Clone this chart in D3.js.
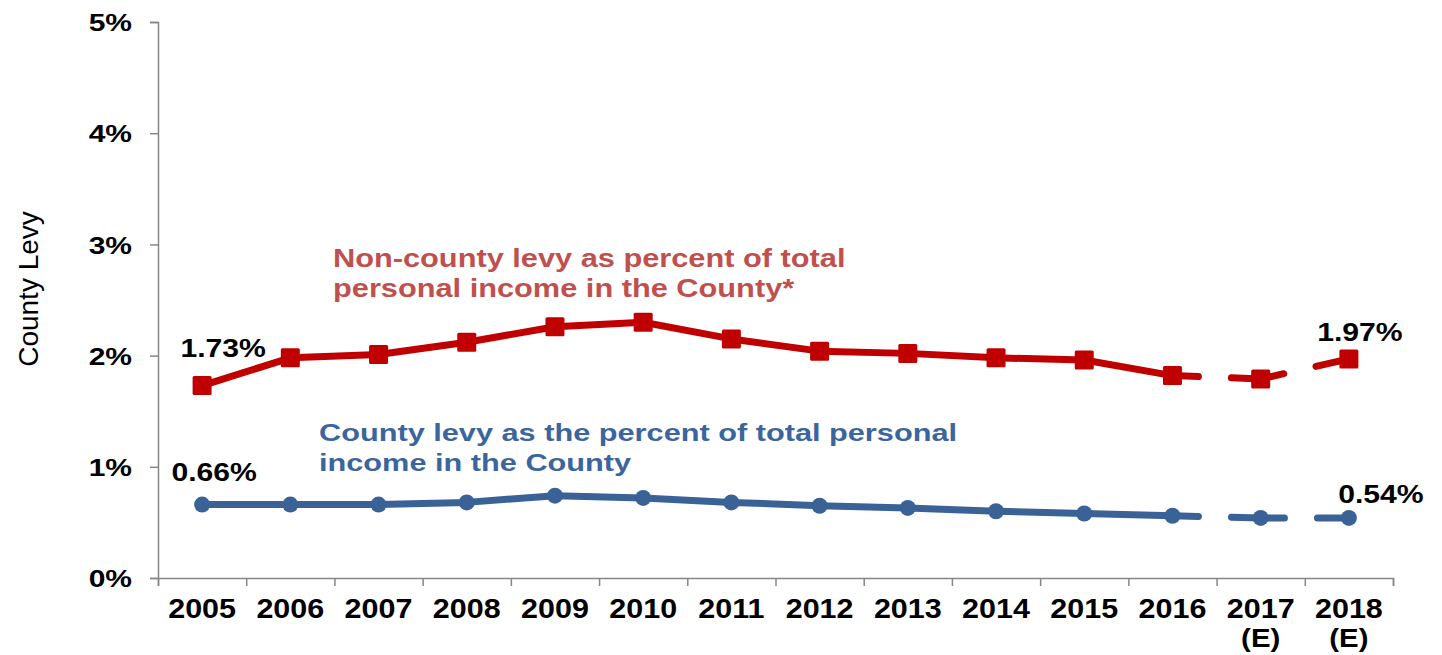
<!DOCTYPE html>
<html>
<head>
<meta charset="utf-8">
<script src="https://cdn.jsdelivr.net/npm/d3@7"></script>
<style>
  body { margin: 0; background: #fff; }
  svg text { font-family: "Liberation Sans", Arial, sans-serif; }
</style>
</head>
<body>
<div id="chart"></div>
<script>
// chart data
const years = ["2005", "2006", "2007", "2008", "2009", "2010", "2011", "2012", "2013", "2014", "2015", "2016", "2017", "2018"];
const yearNotes = ["", "", "", "", "", "", "", "", "", "", "", "", "(E)", "(E)"];
const nonCountyLevy = [1.73, 1.98, 2.01, 2.12, 2.26, 2.30, 2.15, 2.04, 2.02, 1.98, 1.96, 1.82, 1.79, 1.97];
const countyLevy = [0.66, 0.66, 0.66, 0.68, 0.74, 0.72, 0.68, 0.65, 0.63, 0.60, 0.58, 0.56, 0.54, 0.54];
const yTicks = [0, 1, 2, 3, 4, 5];
const firstEstimate = 11; // dashed from the 2016 point onwards

const W = 1442, H = 655;
const plotLeft = 158, plotRight = 1393, plotTop = 22, plotBottom = 578;

const red = "#c00000", redText = "#c0504d";
const blue = "#3a6296", blueText = "#3b659d";

const svg = d3.select("#chart").append("svg")
    .attr("width", W)
    .attr("height", H);

// scales
const x = d3.scaleBand().domain(years).range([plotLeft, plotRight]);
const xEdge = d3.scaleLinear().domain([0, years.length]).range([plotLeft, plotRight]);
const y = d3.scaleLinear().domain([0, 5]).range([plotBottom, plotTop]);

// y axis
const yAxis = svg.append("g")
    .attr("transform", `translate(${plotLeft},0)`)
    .call(d3.axisLeft(y).tickValues(yTicks).tickSize(8).tickFormat(d => d + "%"));
yAxis.select(".domain").attr("stroke", "#868686").attr("stroke-width", 1.5);
yAxis.selectAll(".tick line").attr("stroke", "#868686").attr("stroke-width", 1.5);
yAxis.selectAll(".tick text")
    .attr("x", 0)
    .attr("dy", "0.36em")
    .attr("transform", "translate(-26,0) scale(1.25,1)")
    .attr("text-anchor", "end")
    .attr("fill", "#000")
    .style("font-size", "24px")
    .style("font-weight", "bold");

// x axis: ticks on category edges, labels in the middle
const xTicks = svg.append("g")
    .attr("transform", `translate(0,${plotBottom})`)
    .call(d3.axisBottom(xEdge).tickValues(d3.range(years.length + 1)).tickSize(8).tickFormat(""));
xTicks.select(".domain").attr("stroke", "#868686").attr("stroke-width", 1.5);
xTicks.selectAll(".tick line").attr("stroke", "#868686").attr("stroke-width", 1.5);

const xLabels = svg.append("g")
    .attr("transform", `translate(0,${plotBottom})`)
    .call(d3.axisBottom(x).tickSize(0).tickFormat(""));
xLabels.select(".domain").remove();
xLabels.selectAll(".tick").each(function(d, i) {
    let g = d3.select(this).append("g").attr("transform", "scale(1.13,1)");
    g.append("text")
        .attr("y", 40)
        .attr("text-anchor", "middle")
        .attr("fill", "#000")
        .style("font-size", "27px")
        .style("font-weight", "bold")
        .text(d);
    if (yearNotes[i]) {
        g.append("text")
            .attr("y", 69)
            .attr("text-anchor", "middle")
            .attr("fill", "#000")
            .style("font-size", "26px")
            .style("font-weight", "bold")
            .text(yearNotes[i]);
    }
});

// y title
svg.append("text")
    .attr("transform", `translate(38,${(plotTop + plotBottom) / 2 - 11}) rotate(-90)`)
    .attr("text-anchor", "middle")
    .attr("fill", "#000")
    .style("font-size", "28px")
    .text("County Levy");

// lines
const cx = (d, i) => x(years[i]) + x.bandwidth() / 2;
const line = d3.line().x(d => d.x).y(d => d.y);

function drawSeries(values, color, marker) {
    let pts = values.map((v, i) => ({ x: cx(v, i), y: y(v) }));
    let g = svg.append("g");

    g.append("path")
        .attr("d", line(pts.slice(0, firstEstimate + 1)))
        .attr("fill", "none")
        .attr("stroke", color)
        .attr("stroke-width", 7)
        .attr("stroke-linejoin", "round")
        .attr("stroke-linecap", "round");

    g.append("path")
        .attr("d", line(pts.slice(firstEstimate)))
        .attr("fill", "none")
        .attr("stroke", color)
        .attr("stroke-width", 7)
        .attr("stroke-linecap", "round")
        .attr("stroke-dasharray", "53 33")
        .attr("stroke-dashoffset", 27);

    if (marker == "square") {
        g.selectAll("rect").data(pts).enter().append("rect")
            .attr("x", d => d.x - 9.5)
            .attr("y", d => d.y - 9.5)
            .attr("width", 19)
            .attr("height", 19)
            .attr("rx", 1.5)
            .attr("fill", color);
    } else {
        g.selectAll("circle").data(pts).enter().append("circle")
            .attr("cx", d => d.x)
            .attr("cy", d => d.y)
            .attr("r", 8)
            .attr("fill", color);
    }
    return pts;
}

const redPts = drawSeries(nonCountyLevy, red, "square");
const bluePts = drawSeries(countyLevy, blue, "circle");

// end value labels
function valueLabel(p, v, dx, dy) {
    svg.append("g")
        .attr("transform", `translate(${p.x + dx},${p.y + dy}) scale(1.16,1)`)
        .append("text")
        .attr("text-anchor", "middle")
        .attr("fill", "#000")
        .style("font-size", "26px")
        .style("font-weight", "bold")
        .text(v.toFixed(2) + "%");
}
const last = years.length - 1;
valueLabel(redPts[0], nonCountyLevy[0], 21, -29);
valueLabel(redPts[last], nonCountyLevy[last], 11, -18);
valueLabel(bluePts[0], countyLevy[0], 12, -24);
valueLabel(bluePts[last], countyLevy[last], 32, -15);

// series notes
function note(lines, color, x0, y0, size, sx) {
    let g = svg.append("g").attr("transform", `translate(${x0},${y0}) scale(${sx},1)`);
    lines.forEach((t, i) => {
        g.append("text")
            .attr("y", i * 30)
            .attr("fill", color)
            .style("font-size", size + "px")
            .style("font-weight", "bold")
            .text(t);
    });
}
note(["Non-county levy as percent of total", "personal income in the County*"], redText, 333, 267, 25, 1.23);
note(["County levy as the percent of total personal", "income in the County"], blueText, 319, 441, 24, 1.28);
</script>
</body>
</html>
